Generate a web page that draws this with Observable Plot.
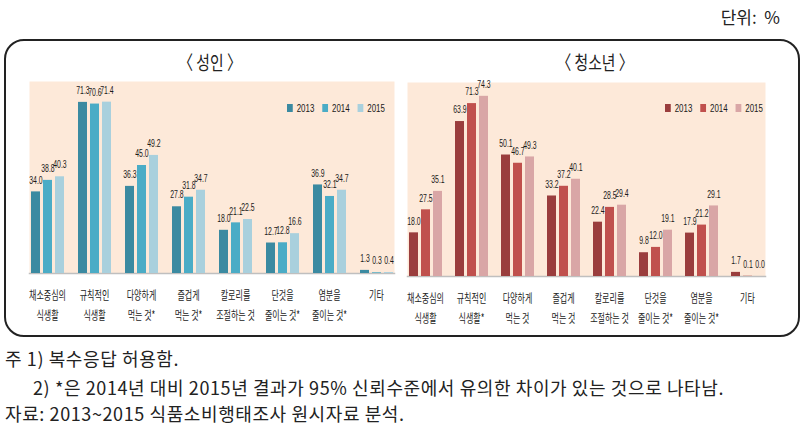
<!DOCTYPE html>
<html>
<head>
<meta charset="utf-8">
<script src="https://cdn.jsdelivr.net/npm/d3@7"></script>
<script src="https://cdn.jsdelivr.net/npm/@observablehq/plot@0.6"></script>
<style>
  body { margin: 0; background: #fff; }
  #root { position: relative; width: 810px; height: 435px; overflow: hidden;
          font-family: "Noto Sans CJK KR", "Noto Sans", sans-serif; color: #222; }
  .box { position: absolute; left: 4px; top: 39px; width: 792px; height: 294px;
         border: 2px solid #222; border-radius: 20px; }
  .title { position: absolute; width: 200px; text-align: center; font-size: 19px;
           line-height: 24px; top: 50px; transform: scaleX(0.78); transform-origin: 50% 50%; }
  .unit { position: absolute; right: 30px; top: 6px; font-size: 17px; line-height: 22px; }
  .note { position: absolute; font-size: 18px; line-height: 22px; white-space: nowrap; letter-spacing: 0.6px; }
  .plotwrap { position: absolute; top: 40px; }
  .legwrap { position: absolute; width: 220px; white-space: nowrap;
             transform: scaleX(0.72); transform-origin: 0 50%; }
</style>
</head>
<body>
<div id="root">
  <div class="unit">단위:&nbsp; %</div>
  <div class="box"></div>
  <div class="title" style="left:110px">〈 성인 〉</div>
  <div class="title" style="left:495px">〈 청소년 〉</div>
  <div class="plotwrap" id="left" style="left:0px"></div>
  <div class="plotwrap" id="right" style="left:402px"></div>
  <div class="legwrap" id="legL" style="left:287px; top:91px"></div>
  <div class="legwrap" id="legR" style="left:665px; top:91px"></div>
  <div class="note" style="left:5px; top:347px">주 1) 복수응답 허용함.</div>
  <div class="note" style="left:33px; top:376px">2) *은 2014년 대비 2015년 결과가 95% 신뢰수준에서 유의한 차이가 있는 것으로 나타남.</div>
  <div class="note" style="left:5px; top:402px">자료: 2013~2015 식품소비행태조사 원시자료 분석.</div>
</div>
<script>
const years = ["2013", "2014", "2015"];

const categoriesAdult = ["채소중심의\n식생활", "규칙적인\n식생활", "다양하게\n먹는 것*", "즐겁게\n먹는 것*",
  "칼로리를\n조절하는 것", "단것을\n줄이는 것*", "염분을\n줄이는 것*", "기타"];
const categoriesTeen = ["채소중심의\n식생활", "규칙적인\n식생활*", "다양하게\n먹는 것", "즐겁게\n먹는 것",
  "칼로리를\n조절하는 것", "단것을\n줄이는 것*", "염분을\n줄이는 것*", "기타"];

const adult2013 = [34.0, 71.3, 36.3, 27.8, 18.0, 12.7, 36.9, 1.3];
const adult2014 = [38.8, 70.6, 45.0, 31.8, 21.1, 12.8, 32.1, 0.3];
const adult2015 = [40.3, 71.4, 49.2, 34.7, 22.5, 16.6, 34.7, 0.4];

const teen2013 = [18.0, 63.9, 50.1, 33.2, 22.4, 9.8, 17.9, 1.7];
const teen2014 = [27.5, 71.3, 46.7, 37.2, 28.5, 12.0, 21.2, 0.1];
const teen2015 = [35.1, 74.3, 49.3, 40.1, 29.4, 19.1, 29.1, 0.0];

const adultColors = ["#3b8aa1", "#4bacc6", "#a9d0dd"];
const teenColors = ["#9a3d3d", "#c0504d", "#d9a6a6"];

function rows(cats, a, b, c) {
  const out = [];
  cats.forEach((cat, i) => {
    out.push({cat, year: years[0], value: a[i]});
    out.push({cat, year: years[1], value: b[i]});
    out.push({cat, year: years[2], value: c[i]});
  });
  return out;
}

function condense(nodes, k) {
  nodes.forEach(t => {
    const tr = t.getAttribute("transform") || "";
    t.setAttribute("transform", tr + ` scale(${k},1)`);
  });
}

function panel(opt) {
  const data = rows(opt.cats, opt.s[0], opt.s[1], opt.s[2]);
  const svg = Plot.plot({
    width: opt.width, height: 297,
    marginLeft: opt.ml, marginRight: opt.mr, marginTop: opt.mt, marginBottom: opt.mb,
    style: {background: "transparent", overflow: "visible", color: "#222"},
    fx: {domain: opt.cats, paddingInner: opt.pi, paddingOuter: opt.po, align: opt.align, label: null},
    x: {domain: years, paddingInner: 0.25, paddingOuter: 0.125, axis: null},
    y: {domain: [0, 80], axis: null},
    color: {domain: years, range: opt.colors},
    marks: [
      Plot.frame({fill: "#fde9d9", stroke: "none", facet: "super"}),
      Plot.frame({anchor: "bottom", stroke: "#bfbfbf", strokeWidth: 1.5, facet: "super"}),
      Plot.barY(data, {fx: "cat", x: "year", y: "value", fill: "year"}),
      Plot.text(data, {fx: "cat", x: "year", y: "value", text: d => d.value.toFixed(1),
        dy: -12, fontSize: 11.5, fontFamily: "Liberation Sans", fill: "#1a1a1a", className: "vlabel"}),
      Plot.axisFx({anchor: "bottom", tickSize: 0, tickPadding: 12, lineHeight: 1.7,
        fontSize: 12, fontFamily: "Noto Sans CJK KR", label: null, className: "tlabel"})
    ]
  });
  condense(svg.querySelectorAll("g[aria-label='text'] text"), 0.6);
  condense(svg.querySelectorAll("g[aria-label='fx-axis tick label'] text"), 0.67);
  return svg;
}

document.getElementById("left").appendChild(panel({
  cats: categoriesAdult, s: [adult2013, adult2014, adult2015], colors: adultColors,
  width: 402, ml: 26, mr: 4, mt: 41, mb: 64, pi: 0.234, po: 0.074, align: 0.5
}));
document.getElementById("right").appendChild(panel({
  cats: categoriesTeen, s: [teen2013, teen2014, teen2015], colors: teenColors,
  width: 408, ml: 5, mr: 33, mt: 42, mb: 61, pi: 0.227, po: 0.084, align: 0
}));

function legend(colors) {
  return Plot.legend({
    color: {type: "ordinal", domain: years, range: colors},
    swatchSize: 8,
    style: {fontFamily: "Liberation Sans", fontSize: "11px", color: "#1a1a1a", margin: "0"}
  });
}
document.getElementById("legL").appendChild(legend(adultColors));
document.getElementById("legR").appendChild(legend(teenColors));
</script>
</body>
</html>
